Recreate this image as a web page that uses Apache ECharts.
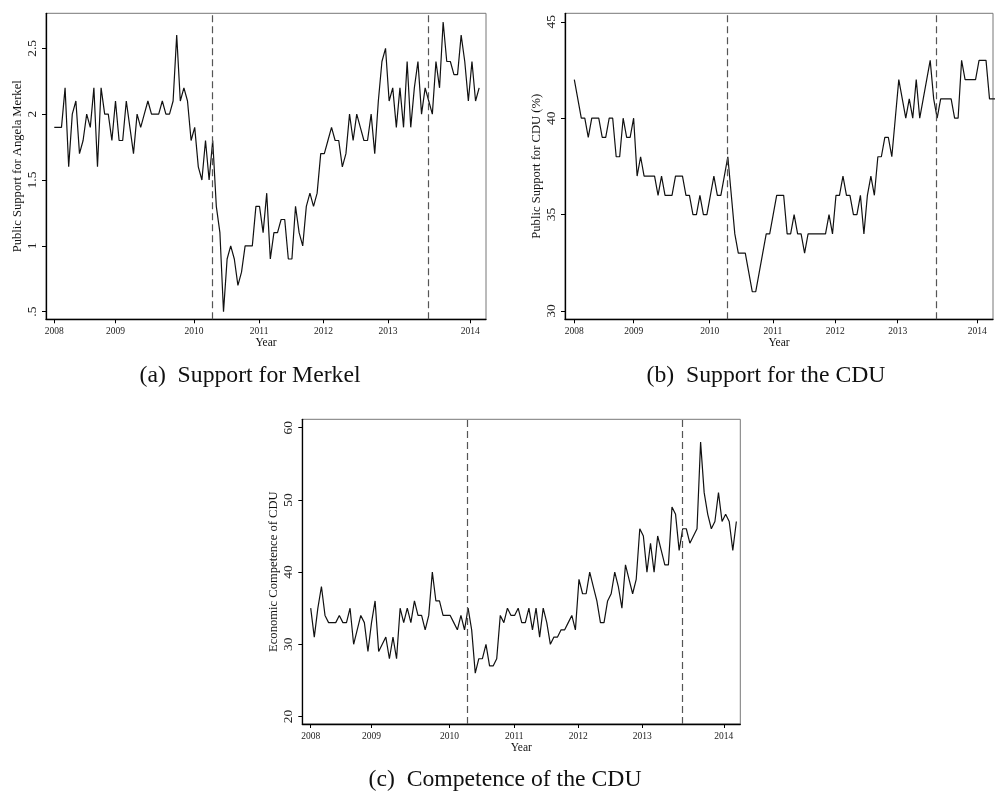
<!DOCTYPE html>
<html lang="en">
<head>
<meta charset="UTF-8">
<title>Support for Merkel and the CDU</title>
<style>
  html, body { margin: 0; padding: 0; background: #fff; }
  #main { width: 997px; height: 794px; }
</style>
</head>
<body>
<div id="main"></div>
<script src="https://cdn.jsdelivr.net/npm/echarts@6/dist/echarts.min.js"></script>
<script>
// x is the poll number; the year labels sit where each year starts (2009 and 2013 had more polls)
const yearTicks = [0, 17, 38.8, 56.9, 74.8, 92.7, 115.5];
const yearLabels = ['2008', '2009', '2010', '2011', '2012', '2013', '2014'];
const breaks = [43.8, 103.8];

const merkel = [
  1.9, 1.9, 1.9, 2.2, 1.6, 2.0, 2.1, 1.7, 1.8, 2.0, 1.9, 2.2, 1.6, 2.2, 2.0, 2.0, 1.8,
  2.1, 1.8, 1.8, 2.1, 1.9, 1.7, 2.0, 1.9, 2.0, 2.1, 2.0, 2.0, 2.0, 2.1, 2.0, 2.0, 2.1, 2.6, 2.1, 2.2, 2.1, 1.8,
  1.9, 1.6, 1.5, 1.8, 1.5, 1.8, 1.3, 1.1, 0.5, 0.9, 1.0, 0.9, 0.7, 0.8, 1.0, 1.0, 1.0, 1.3,
  1.3, 1.1, 1.4, 0.9, 1.1, 1.1, 1.2, 1.2, 0.9, 0.9, 1.3, 1.1, 1.0, 1.3, 1.4, 1.3, 1.4, 1.7,
  1.7, 1.8, 1.9, 1.8, 1.8, 1.6, 1.7, 2.0, 1.8, 2.0, 1.9, 1.8, 1.8, 2.0, 1.7, 2.1, 2.4, 2.5,
  2.1, 2.2, 1.9, 2.2, 1.9, 2.4, 1.9, 2.2, 2.4, 2.0, 2.2, 2.1, 2.0, 2.4, 2.2, 2.7, 2.4, 2.4,
  2.3, 2.3, 2.6, 2.4, 2.1, 2.4, 2.1, 2.2
];
const cdu = [
  42, 41, 40, 40, 39, 40, 40, 40, 39, 39, 40, 40, 38, 38, 40, 39, 39,
  40, 37, 38, 37, 37, 37, 37, 36, 37, 36, 36, 36, 37, 37, 37, 36, 36, 35, 35, 36, 35, 35,
  36, 37, 36, 36, 37, 38, 36, 34, 33, 33, 33, 32, 31, 31, 32, 33, 34, 34,
  35, 36, 36, 36, 34, 34, 35, 34, 34, 33, 34, 34, 34, 34, 34, 34, 35, 34,
  36, 36, 37, 36, 36, 35, 35, 36, 34, 36, 37, 36, 38, 38, 39, 39, 38, 40,
  42, 41, 40, 41, 40, 42, 40, 41, 42, 43, 41, 40, 41, 41, 41, 41, 40, 40,
  43, 42, 42, 42, 42, 43, 43, 43, 41, 41, 41
];
const competence = [
  35, 31, 35, 38, 34, 33, 33, 33, 34, 33, 33, 35, 30, 32, 34, 33, 29,
  33, 36, 29, 30, 31, 28, 31, 28, 35, 33, 35, 33, 36, 34, 34, 32, 34, 40, 36, 36, 34, 34,
  34, 33, 32, 34, 32, 35, 32, 26, 28, 28, 30, 27, 27, 28, 34, 33, 35, 34,
  34, 35, 33, 33, 35, 32, 35, 31, 35, 33, 30, 31, 31, 32, 32, 33, 34, 32,
  39, 37, 37, 40, 38, 36, 33, 33, 36, 37, 40, 38, 35, 41, 39, 37, 39, 46,
  45, 40, 44, 40, 45, 43, 41, 41, 49, 48, 43, 46, 46, 44, 45, 46, 58, 51,
  48, 46, 47, 51, 47, 48, 47, 43, 47
];

const merkelTicks = [0.5, 1, 1.5, 2, 2.5];
const cduTicks = [30, 35, 40, 45];
const competenceTicks = [20, 30, 40, 50, 60];

const serif = 'Liberation Serif';
var myChart = echarts.init(document.getElementById('main'));

function xAxisFor(gridIndex, min, max) {
  return {
    type: 'value', gridIndex: gridIndex, min: min, max: max,
    name: 'Year', nameLocation: 'middle', nameGap: 18,
    nameTextStyle: { fontFamily: serif, fontSize: 11.5, color: '#111' },
    axisLine: { onZero: false, lineStyle: { color: '#000', width: 1.3 } },
    axisTick: { customValues: yearTicks, length: 4, lineStyle: { color: '#000' } },
    axisLabel: {
      customValues: yearTicks, margin: 7, fontFamily: serif, fontSize: 9.5, color: '#222',
      formatter: function (v) {
        let best = 0;
        yearTicks.forEach((t, i) => { if (Math.abs(t - v) < Math.abs(yearTicks[best] - v)) best = i; });
        return yearLabels[best];
      }
    },
    splitLine: { show: false }
  };
}

function yAxisFor(gridIndex, min, max, ticks, title, gap) {
  return {
    type: 'value', gridIndex: gridIndex, min: min, max: max,
    name: title, nameLocation: 'middle', nameGap: gap, nameRotate: 90,
    nameTextStyle: { fontFamily: serif, fontSize: 12.6, color: '#111' },
    axisLine: { show: true, onZero: false, lineStyle: { color: '#000', width: 1.3 } },
    axisTick: { show: true, customValues: ticks, length: 4, lineStyle: { color: '#000' } },
    axisLabel: {
      customValues: ticks, rotate: 90, margin: 7, fontFamily: serif, fontSize: 13.5, color: '#222',
      formatter: function (v) { return v < 1 ? String(v).replace(/^0/, '') : String(v); }
    },
    splitLine: { show: false }
  };
}

function lineSeries(idx, values) {
  return {
    type: 'line', xAxisIndex: idx, yAxisIndex: idx,
    data: values.map((v, i) => [i, v]),
    showSymbol: false, symbol: 'none',
    lineStyle: { color: '#111', width: 1.2 },
    markLine: {
      silent: true, symbol: ['none', 'none'], label: { show: false },
      lineStyle: { color: '#555', type: [7, 4], width: 1.2 },
      data: breaks.map(b => ({ xAxis: b }))
    }
  };
}

var frame = { show: true, borderColor: '#777', borderWidth: 1, containLabel: false, outerBoundsMode: 'none' };

var option = {
  animation: false,
  backgroundColor: '#fff',
  grid: [
    Object.assign({ left: 46, top: 13.3, width: 440, height: 306 }, frame),
    Object.assign({ left: 565, top: 13.3, width: 428, height: 306 }, frame),
    Object.assign({ left: 302.3, top: 419.3, width: 438, height: 304.7 }, frame)
  ],
  xAxis: [
    xAxisFor(0, -2.3, 119.9),
    xAxisFor(1, -2.67, 120.0),
    xAxisFor(2, -2.35, 120.1)
  ],
  yAxis: [
    yAxisFor(0, 0.442, 2.766, merkelTicks, 'Public Support for Angela Merkel', 21),
    yAxisFor(1, 29.57, 45.44, cduTicks, 'Public Support for CDU (%)', 20),
    yAxisFor(2, 18.96, 61.16, competenceTicks, 'Economic Competence of CDU', 18)
  ],
  series: [
    lineSeries(0, merkel),
    lineSeries(1, cdu),
    lineSeries(2, competence)
  ],
  graphic: {
    elements: [
      { type: 'text', x: 250, y: 376, style: { text: '(a)  Support for Merkel', font: '23.7px "Liberation Serif"', fill: '#111', textAlign: 'center', textVerticalAlign: 'middle' } },
      { type: 'text', x: 766, y: 376, style: { text: '(b)  Support for the CDU', font: '23.7px "Liberation Serif"', fill: '#111', textAlign: 'center', textVerticalAlign: 'middle' } },
      { type: 'text', x: 505, y: 780, style: { text: '(c)  Competence of the CDU', font: '23.7px "Liberation Serif"', fill: '#111', textAlign: 'center', textVerticalAlign: 'middle' } }
    ]
  }
};

myChart.setOption(option);
</script>
</body>
</html>
